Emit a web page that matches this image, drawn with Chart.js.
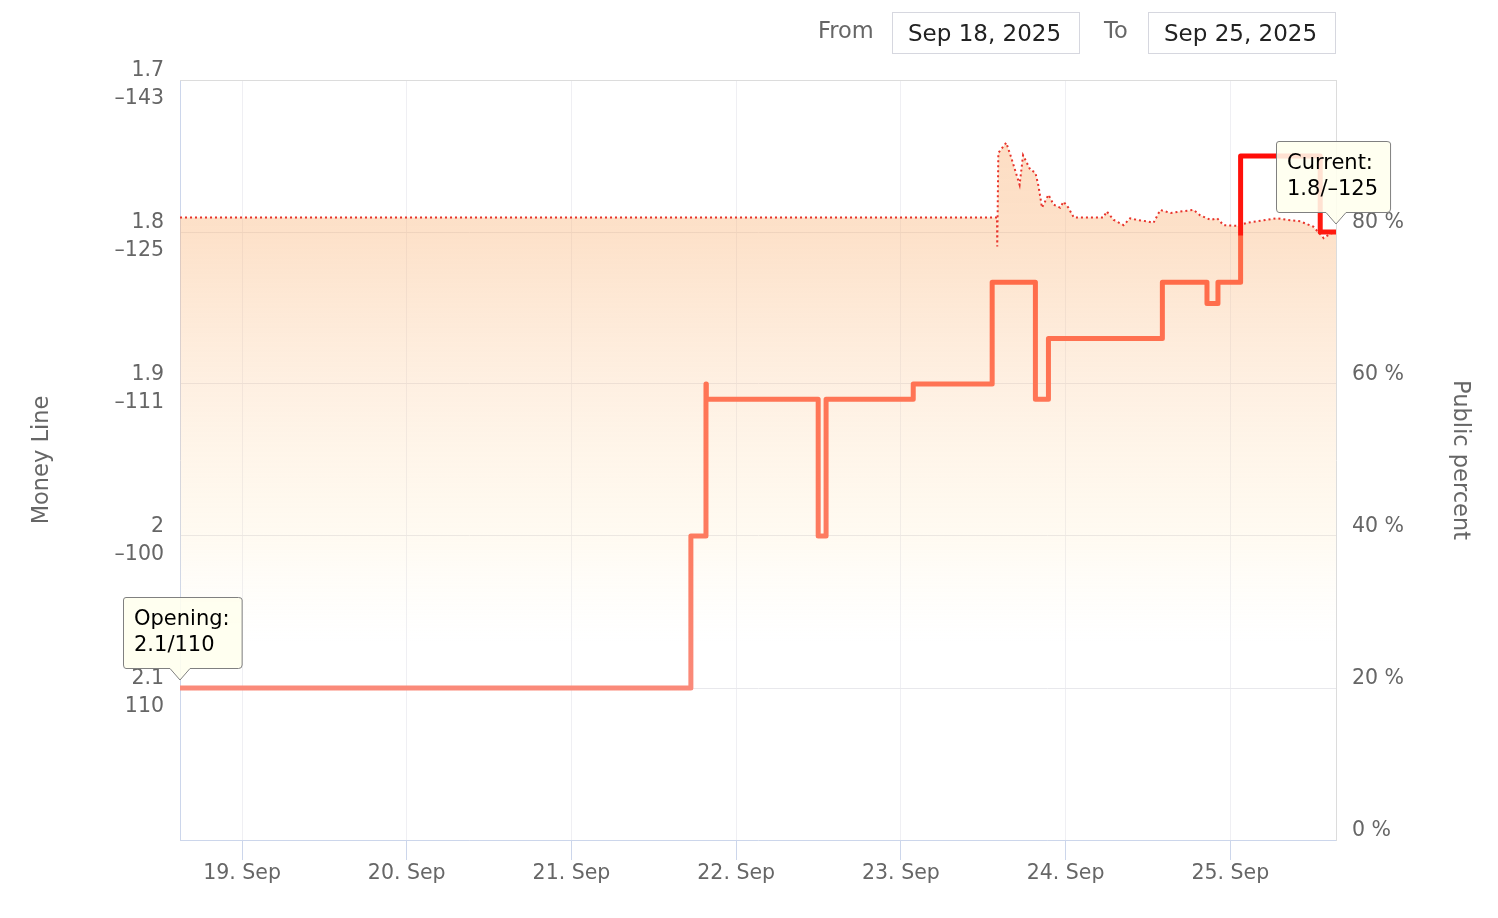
<!DOCTYPE html>
<html>
<head>
<meta charset="utf-8">
<script src="https://cdn.jsdelivr.net/npm/chart.js@4/dist/chart.umd.min.js"></script>
<style>
  body { margin: 0; background: #fff; font-family: "DejaVu Sans", sans-serif; }
  #wrap { position: relative; width: 1498px; height: 918px; }
  #chart { position: absolute; left: 0; top: 0; }
  .lbl { position: absolute; top: 17px; font-size: 22.5px; color: #666; line-height: 26px; }
  .box { position: absolute; top: 12px; width: 188px; height: 42px; border: 1px solid #d6d7df;
         font-size: 23px; color: #222; line-height: 40px; padding-left: 15px; box-sizing: border-box; }
</style>
</head>
<body>
<div id="wrap">
  <canvas id="chart" width="1498" height="918"></canvas>
  <span class="lbl" style="left:818px">From</span>
  <div class="box" style="left:892px">Sep 18, 2025</div>
  <span class="lbl" style="left:1104px">To</span>
  <div class="box" style="left:1148px">Sep 25, 2025</div>
</div>
<script>
// hours counted from 19 Sep 00:00
const dayTicks = [0, 24, 48, 72, 96, 120, 144];
const dayLabels = ['19. Sep', '20. Sep', '21. Sep', '22. Sep', '23. Sep', '24. Sep', '25. Sep'];

const oddsTicks = [1.7, 1.8, 1.9, 2, 2.1, 2.2];
const oddsLabels = ['1.7', '1.8', '1.9', '2', '2.1', ''];
const americanLabels = ['–143', '–125', '–111', '–100', '110', ''];

const pctTicks = [0, 20, 40, 60, 80, 100];

// money line (decimal odds), step changes
const lineHours = [-9.04, 65.4, 67.6, 67.65, 83.95, 85.1, 97.8, 109.3, 115.6, 117.5, 134.1, 140.6, 142.2, 145.5, 157.1, 159.4];
const lineOdds  = [2.1,   2.0,  1.9,  1.91,  2.0,   1.91, 1.9,  1.833, 1.91, 1.87,  1.833, 1.847, 1.833, 1.75, 1.8,  1.8];

// public percent
const pctHours = [-9.04, 110.0, 110.04, 110.2, 111.35, 112.04, 113.3, 113.8, 114.85, 115.6, 116.06, 116.56, 117.5, 118.25, 119.2, 119.7, 120.4, 121.2, 125.5, 126.0, 127.0, 128.45, 129.4, 130.4, 131.9, 132.8, 133.8, 135.3, 136.7, 138.65, 139.6, 141.1, 142.1, 143.0, 145.0, 146.4, 150.8, 152.3, 154.2, 156.1, 157.6, 158.6, 159.4];
const pctValues = [81.9, 81.9, 78.1, 90.4, 91.75, 89.9, 86.2, 90.1, 88.2, 87.8, 86.0, 83.2, 84.9, 83.6, 83.2, 84.0, 83.2, 81.9, 81.9, 82.7, 81.6, 80.9, 81.8, 81.6, 81.4, 81.2, 82.9, 82.5, 82.7, 82.9, 82.2, 81.6, 81.8, 80.9, 80.8, 81.2, 81.8, 81.6, 81.4, 80.7, 79.2, 79.8, 80.0];

const openingText = ['Opening:', lineOdds[0] + '/' + americanLabels[4]];
const currentText = ['Current:', lineOdds[lineOdds.length - 1] + '/' + americanLabels[1]];

const FONT = '"DejaVu Sans", sans-serif';

function lineGradient(ctx) {
    const chart = ctx.chart;
    const area = chart.chartArea;
    if (!area) return '#ff7050';
    const y = chart.scales.y;
    const h = area.bottom - area.top;
    const f = v => Math.min(1, Math.max(0, (y.getPixelForValue(v) - area.top) / h));
    const g = chart.ctx.createLinearGradient(0, area.top, 0, area.bottom);
    g.addColorStop(0, '#ff0000');
    g.addColorStop(f(1.8) + 3 / h, '#ff1a10');
    g.addColorStop(f(1.8) + 4 / h, '#ff6845');
    g.addColorStop(f(1.91), '#ff7556');
    g.addColorStop(f(2.0), '#fd7b60');
    g.addColorStop(f(2.1), '#fa8a7a');
    g.addColorStop(1, '#fa9080');
    return g;
}

function fillGradient(ctx) {
    const chart = ctx.chart;
    const area = chart.chartArea;
    if (!area) return 'rgba(250,180,120,0.4)';
    const y1 = chart.scales.y1;
    const h = area.bottom - area.top;
    const f = v => (y1.getPixelForValue(v) - area.top) / h;
    const g = chart.ctx.createLinearGradient(0, area.top, 0, area.bottom);
    g.addColorStop(0, 'rgba(250,175,115,0.45)');
    g.addColorStop(f(80), 'rgba(250,180,120,0.40)');
    g.addColorStop(f(60), 'rgba(252,200,150,0.28)');
    g.addColorStop(f(40), 'rgba(255,225,170,0.16)');
    g.addColorStop(f(26), 'rgba(255,240,200,0)');
    g.addColorStop(1, 'rgba(255,255,255,0)');
    return g;
}

function drawCallout(ctx, px, py, lines, shift) {
    ctx.save();
    ctx.font = '21px ' + FONT;
    const w = Math.max(...lines.map(t => ctx.measureText(t).width)) + 23;
    const h = 71;
    const left = px + shift;
    const right = left + w;
    const bottom = py - 20;
    const top = bottom - h;
    const tipX = Math.min(Math.max(px, left + 12), right - 12);
    const r = 3;
    ctx.beginPath();
    ctx.moveTo(left + r, top + 0.5);
    ctx.lineTo(right - r, top + 0.5);
    ctx.quadraticCurveTo(right + 0.5, top + 0.5, right + 0.5, top + r);
    ctx.lineTo(right + 0.5, bottom - r);
    ctx.quadraticCurveTo(right + 0.5, bottom + 0.5, right - r, bottom + 0.5);
    ctx.lineTo(tipX + 10, bottom + 0.5);
    ctx.lineTo(tipX, py - 8);
    ctx.lineTo(tipX - 10, bottom + 0.5);
    ctx.lineTo(left + r, bottom + 0.5);
    ctx.quadraticCurveTo(left + 0.5, bottom + 0.5, left + 0.5, bottom - r);
    ctx.lineTo(left + 0.5, top + r);
    ctx.quadraticCurveTo(left + 0.5, top + 0.5, left + r, top + 0.5);
    ctx.closePath();
    ctx.fillStyle = 'rgba(255,255,238,0.88)';
    ctx.fill();
    ctx.strokeStyle = '#808080';
    ctx.lineWidth = 1;
    ctx.stroke();
    ctx.fillStyle = '#000';
    ctx.textBaseline = 'middle';
    ctx.textAlign = 'left';
    ctx.fillText(lines[0], left + 11, top + 23);
    ctx.fillText(lines[1], left + 11, top + 49);
    ctx.restore();
}

const extras = {
    id: 'extras',
    beforeDatasetsDraw(chart) {
        const { ctx, chartArea } = chart;
        ctx.save();
        ctx.strokeStyle = '#dcdcdc';
        ctx.lineWidth = 1;
        ctx.beginPath();
        ctx.moveTo(chartArea.left, chartArea.top + 0.5);
        ctx.lineTo(chartArea.right, chartArea.top + 0.5);
        ctx.stroke();
        ctx.restore();
    },
    afterDatasetsDraw(chart) {
        const { ctx, scales } = chart;
        const n = lineHours.length - 1;
        drawCallout(ctx, scales.x.getPixelForValue(lineHours[0]), scales.y.getPixelForValue(lineOdds[0]), openingText, -57);
        drawCallout(ctx, scales.x.getPixelForValue(lineHours[n]), scales.y.getPixelForValue(lineOdds[n]), currentText, -60);
    }
};

const chartCtx = document.getElementById('chart').getContext('2d');
const chart = new Chart(chartCtx, {
    type: 'line',
    data: {
        datasets: [{
            label: 'Money Line',
            data: lineHours.map((h, i) => ({ x: h, y: lineOdds[i] })),
            yAxisID: 'y',
            stepped: true,
            borderColor: lineGradient,
            borderWidth: 5,
            borderJoinStyle: 'round',
            borderCapStyle: 'round',
            pointRadius: 0,
            fill: false,
            order: 0
        }, {
            label: 'Public percent',
            data: pctHours.map((h, i) => ({ x: h, y: pctValues[i] })),
            yAxisID: 'y1',
            borderColor: '#e8332b',
            borderWidth: 2,
            borderDash: [2, 3],
            backgroundColor: fillGradient,
            fill: 'origin',
            pointRadius: 0,
            tension: 0,
            order: 1
        }]
    },
    options: {
        responsive: false,
        animation: false,
        layout: { padding: { top: 80, left: 0, right: 0, bottom: 0 } },
        plugins: {
            legend: { display: false },
            tooltip: { enabled: false }
        },
        scales: {
            x: {
                type: 'linear',
                min: -9.04,
                max: 159.4,
                afterBuildTicks: s => { s.ticks = dayTicks.map(v => ({ value: v })); },
                afterFit: s => { s.height = 78; },
                ticks: {
                    autoSkip: false,
                    maxRotation: 0,
                    padding: 1,
                    color: '#666',
                    font: { family: FONT, size: 20.5 },
                    callback: (v, i) => dayLabels[i]
                },
                grid: { color: '#efeff3', tickColor: '#ccd6eb', tickLength: 20 },
                border: { color: '#ccd6eb' }
            },
            y: {
                type: 'linear',
                position: 'left',
                reverse: true,
                min: 1.7,
                max: 2.2,
                afterBuildTicks: s => { s.ticks = oddsTicks.map(v => ({ value: v })); },
                afterFit: s => { s.width = 180; },
                ticks: {
                    autoSkip: false,
                    padding: 16,
                    labelOffset: 5,
                    color: '#666',
                    font: { family: FONT, size: 20.5, lineHeight: 1.37 },
                    callback: (v, i) => oddsLabels[i] ? [oddsLabels[i], americanLabels[i]] : ''
                },
                grid: { color: '#e8e8ec', drawTicks: false },
                border: { color: '#ccd6eb' },
                title: {
                    display: true,
                    text: 'Money Line',
                    color: '#666',
                    font: { family: FONT, size: 22.5 },
                    padding: { top: 29, bottom: 0 }
                }
            },
            y1: {
                type: 'linear',
                position: 'right',
                min: 0,
                max: 100,
                afterBuildTicks: s => { s.ticks = pctTicks.map(v => ({ value: v })); },
                afterFit: s => { s.width = 162; },
                ticks: {
                    autoSkip: false,
                    padding: 16,
                    labelOffset: -9,
                    color: '#666',
                    font: { family: FONT, size: 20.5 },
                    callback: v => v === 100 ? '' : v + ' %'
                },
                grid: { display: false, drawTicks: false },
                border: { color: '#dcdcdc' },
                title: {
                    display: true,
                    text: 'Public percent',
                    color: '#666',
                    font: { family: FONT, size: 22.5 },
                    padding: { top: 25, bottom: 0 }
                }
            }
        }
    },
    plugins: [extras]
});
</script>
</body>
</html>
